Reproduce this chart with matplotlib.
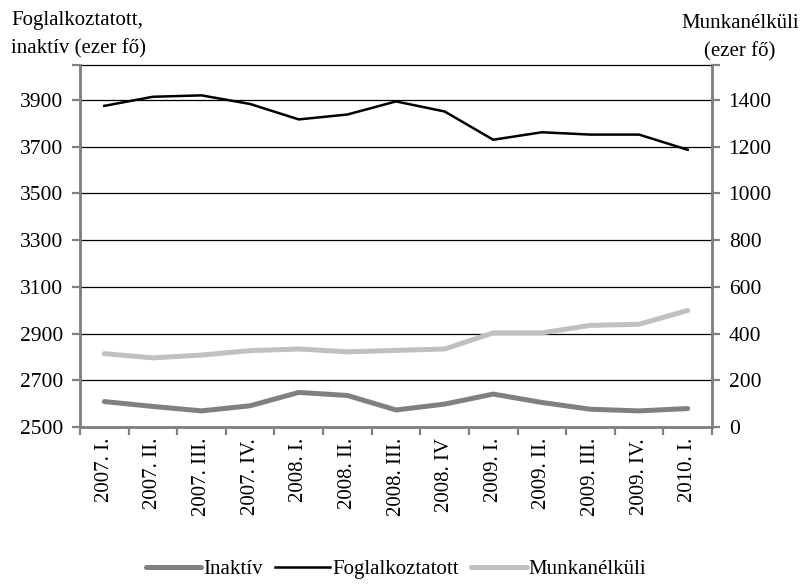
import numpy as np
import matplotlib
matplotlib.use("Agg")
from matplotlib import pyplot as plt

plt.rcParams['font.family'] = ['Liberation Serif', 'DejaVu Serif']

quarters = ["2007. I.", "2007. II.", "2007. III.", "2007. IV.", "2008. I.", "2008. II.",
            "2008. III.", "2008. IV", "2009. I.", "2009. II.", "2009. III.", "2009. IV.",
            "2010. I."]
inaktiv = [2609, 2588, 2569, 2591, 2648, 2635, 2573, 2598, 2641, 2605, 2576, 2569, 2579]
foglalkoztatott = [3875, 3914, 3920, 3883, 3817, 3838, 3894, 3851, 3730, 3762, 3752, 3752, 3687]
munkanelkuli = [314, 296, 308, 327, 334, 322, 328, 334, 403, 403, 435, 440, 499]

left_ticks = list(range(2500, 3901, 200))
right_ticks = list(range(0, 1401, 200))
left_max, right_max = 4050, 1550

fs = 15
dpi = 100
fig = plt.figure(figsize=(805 / dpi, 584 / dpi), dpi=dpi)
# axes box in pixels: x 80..712, y 65..427
ax = fig.add_axes([80 / 805, 1 - 427 / 584, 632 / 805, 362 / 584])
ax2 = ax.twinx()

x = np.arange(len(quarters))
l1, = ax.plot(x, inaktiv, color='#808080', lw=3.6, solid_capstyle='round', zorder=3)
l2, = ax.plot(x, foglalkoztatott, color='black', lw=1.8, zorder=3)
l3, = ax2.plot(x, munkanelkuli, color='#c0c0c0', lw=3.6, solid_capstyle='round', zorder=3)

ax.set_xlim(-0.5, len(quarters) - 0.5)
ax.set_ylim(left_ticks[0], left_max)
ax2.set_ylim(right_ticks[0], right_max)

ax.set_yticks(left_ticks + [left_max])
ax.set_yticklabels([str(v) for v in left_ticks] + [""])
ax2.set_yticks(right_ticks + [right_max])
ax2.set_yticklabels([str(v) for v in right_ticks] + [""])

for v in left_ticks[1:]:
    ax.axhline(v, color='black', lw=0.9, zorder=1)

# category ticks sit between the quarters, labels at the centres
ax.set_xticks(np.arange(-0.5, len(quarters), 1.0))
ax.set_xticklabels([])
ax.set_xticks(x, minor=True)
ax.set_xticklabels(quarters, minor=True, rotation=90, fontsize=fs)
ax.tick_params(axis='x', which='minor', length=0, pad=8)
ax.tick_params(axis='x', which='major', length=6, width=1.6, color='#808080', direction='out')

ax.tick_params(axis='y', labelsize=fs + 0.5, length=6, width=1.6, color='#808080', pad=6)
ax2.tick_params(axis='y', labelsize=fs + 0.5, length=6, width=1.6, color='#808080', pad=6)

for a in (ax, ax2):
    for side in ('left', 'right', 'bottom'):
        a.spines[side].set_color('#808080')
        a.spines[side].set_linewidth(1.8)
ax2.spines['top'].set_visible(False)
# top border drawn like a gridline
ax.spines['top'].set_color('black')
ax.spines['top'].set_linewidth(0.9)

fig.text(11 / 805, 1 - 35 / 584, "Foglalkoztatott,\ninaktív (ezer fő)", fontsize=fs,
         ha='left', va='center', linespacing=1.6)
fig.text(740 / 805, 1 - 38 / 584, "Munkanélküli\n(ezer fő)", fontsize=fs,
         ha='center', va='center', linespacing=1.6)

fig.legend([l1, l2, l3], ["Inaktív", "Foglalkoztatott", "Munkanélküli"],
           loc='center', bbox_to_anchor=(396 / 805, 1 - 569 / 584), ncol=3, frameon=False,
           fontsize=fs, handlelength=2.65, handletextpad=0.1, columnspacing=0.6)

fig.savefig("out.png", dpi=dpi)
